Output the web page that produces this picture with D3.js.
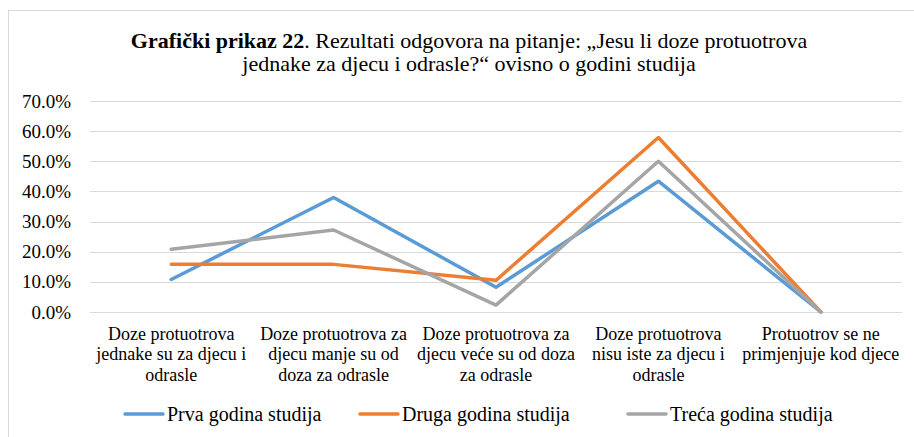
<!DOCTYPE html>
<html>
<head>
<meta charset="utf-8">
<script src="https://cdn.jsdelivr.net/npm/d3@7"></script>
<style>
  body { margin: 0; background: #fff; }
</style>
</head>
<body>
<div class="chart"></div>
<script>
// data
const categories = [
    ["Doze protuotrova", "jednake su za djecu i", "odrasle"],
    ["Doze protuotrova za", "djecu manje su od", "doza za odrasle"],
    ["Doze protuotrova za", "djecu veće su od doza", "za odrasle"],
    ["Doze protuotrova", "nisu iste za djecu i", "odrasle"],
    ["Protuotrov se ne", "primjenjuje kod djece"]
];
const seriesNames = ["Prva godina studija", "Druga godina studija", "Treća godina studija"];
const prva = [0.108, 0.380, 0.082, 0.434, 0];
const druga = [0.158, 0.158, 0.105, 0.579, 0];
const treca = [0.208, 0.272, 0.023, 0.500, 0];
const yTicks = [0, 0.1, 0.2, 0.3, 0.4, 0.5, 0.6, 0.7];
const colors = ["#5B9BD5", "#ED7D31", "#A5A5A5"];

const FONT = "'Liberation Serif', 'Times New Roman', serif";
const W = 914, H = 437;
const x0 = 90, x1 = 902, yTop = 101, yBottom = 312;

const svg = d3.select(".chart").append("svg")
    .attr("width", W)
    .attr("height", H)
    .style("font-family", FONT);

// outer chart border
svg.append("rect")
    .attr("x", 8.5).attr("y", 10.5)
    .attr("width", W).attr("height", H)
    .attr("fill", "none")
    .attr("stroke", "#D9D9D9");

// title
const title = svg.append("text")
    .attr("text-anchor", "middle")
    .style("font-family", FONT)
    .style("font-size", "22px");
title.append("tspan")
    .attr("x", 469).attr("y", 48)
    .style("font-weight", "bold").text("Grafički prikaz 22");
title.append("tspan")
    .text(". Rezultati odgovora na pitanje: „Jesu li doze protuotrova");
title.append("tspan")
    .attr("x", 469).attr("y", 71)
    .text("jednake za djecu i odrasle?“ ovisno o godini studija");

const x = d3.scaleBand()
    .domain(d3.range(categories.length))
    .range([x0, x1]);

const y = d3.scaleLinear()
    .domain([0, 0.7])
    .range([yBottom, yTop]);

// gridlines
svg.append("g").selectAll("line")
    .data(yTicks)
    .enter()
    .append("line")
    .attr("x1", x0).attr("x2", x1)
    .attr("y1", d => Math.round(y(d)) + 0.5)
    .attr("y2", d => Math.round(y(d)) + 0.5)
    .attr("stroke", "#D9D9D9")
    .attr("stroke-width", 1);

// y axis labels
const yAxis = svg.append("g")
    .attr("transform", "translate(" + x0 + ",0)")
    .call(d3.axisLeft(y).tickValues(yTicks).tickFormat(d3.format(".1%")).tickSize(0).tickPadding(19));
yAxis.select(".domain").remove();
yAxis.selectAll("text")
    .style("font-family", FONT)
    .style("font-size", "19px")
    .attr("fill", "#000");

// category labels
const catG = svg.append("g").selectAll("text")
    .data(categories)
    .enter()
    .append("text")
    .attr("text-anchor", "middle")
    .style("font-family", FONT)
    .style("font-size", "18px")
    .attr("x", (d, i) => x(i) + x.bandwidth() / 2);
catG.selectAll("tspan")
    .data(d => d)
    .enter()
    .append("tspan")
    .attr("x", function () { return d3.select(this.parentNode).attr("x"); })
    .attr("y", (d, i) => 339.5 + i * 20.5)
    .text(d => d);

// lines
const line = d3.line()
    .x((d, i) => x(i) + x.bandwidth() / 2)
    .y(d => y(d));

const allSeries = [prva, druga, treca];
svg.append("g").selectAll("path")
    .data(allSeries)
    .enter()
    .append("path")
    .attr("d", d => line(d))
    .attr("fill", "none")
    .attr("stroke", (d, i) => colors[i])
    .attr("stroke-width", 3.5)
    .attr("stroke-linejoin", "round")
    .attr("stroke-linecap", "round");

// legend
const legendX = [123, 358, 626];
const legend = svg.append("g").selectAll("g")
    .data(seriesNames)
    .enter()
    .append("g")
    .attr("transform", (d, i) => "translate(" + legendX[i] + ",414)");
legend.append("line")
    .attr("x1", 2).attr("x2", 40)
    .attr("stroke", (d, i) => colors[i])
    .attr("stroke-width", 3.5)
    .attr("stroke-linecap", "round");
legend.append("text")
    .attr("x", 44).attr("y", 7)
    .style("font-family", FONT)
    .style("font-size", "20px")
    .text(d => d);
</script>
</body>
</html>
